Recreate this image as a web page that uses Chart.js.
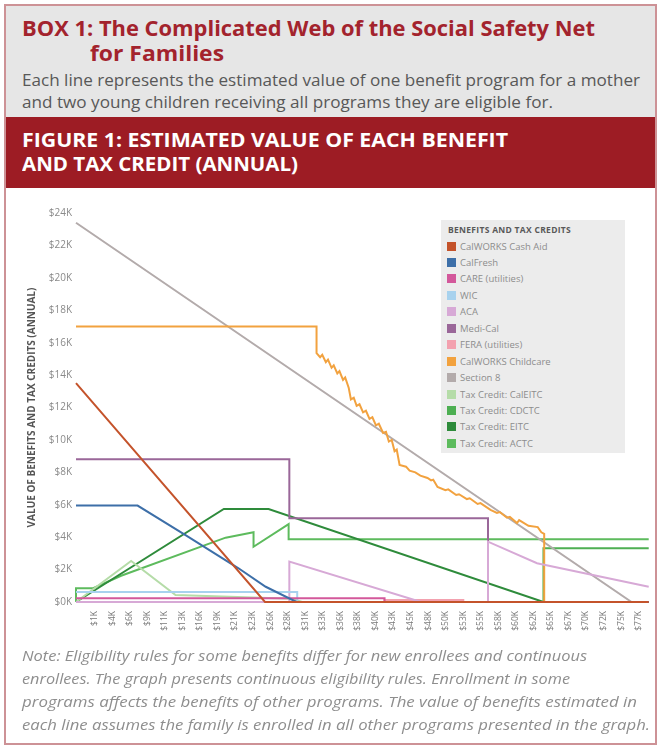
<!DOCTYPE html>
<html>
<head>
<meta charset="utf-8">
<script src="https://cdn.jsdelivr.net/npm/chart.js@4.4.0/dist/chart.umd.min.js"></script>
<style>
  body { margin: 0; background: #fff; font-family: "Open Sans", sans-serif; }
  .abs { position: absolute; }
  #frame { left: 4px; top: 4px; width: 653px; height: 741px; border: 2px solid #cd9296; box-sizing: border-box; }
  #head { left: 6px; top: 6px; width: 649px; height: 111px; background: #e6e6e6; }
  #banner { left: 6px; top: 117px; width: 649px; height: 71px; background: #9d1c24; }
  .line { position: absolute; white-space: nowrap; transform-origin: 0 50%; display: inline-block; }
  .title { font-weight: 700; font-size: 21px; color: #a3232d; line-height: 24px; }
  .sub { font-size: 17px; color: #585858; line-height: 22px; }
  .fig { font-weight: 700; font-size: 20px; color: #fff; line-height: 24px; }
  .note { font-style: italic; font-size: 15px; color: #8e8e8e; line-height: 23px; }
  #wrap { left: 0; top: 190px; width: 658px; height: 455px; }
  #legend { left: 441px; top: 220px; width: 184px; height: 233px; background: #ececec; font-family: "Open Sans", sans-serif; }
  #legend .lt { position: absolute; left: 7px; top: 4px; font-size: 8.5px; font-weight: 700; color: #595959; line-height: 12px; letter-spacing: 0.3px; }
  #legend .it { position: absolute; left: 6px; font-size: 9.5px; color: #8c8c8c; line-height: 16px; white-space: nowrap; }
  #legend .sw { display: inline-block; width: 9px; height: 9px; margin-right: 4px; vertical-align: -1px; }
</style>
</head>
<body>
<div id="frame" class="abs"></div>
<div id="head" class="abs"></div>
<div id="banner" class="abs"></div>

<span class="line title" style="left:22px; top:16px" data-w="573">BOX 1: The Complicated Web of the Social Safety Net</span>
<span class="line title" style="left:90px; top:41px" data-w="134">for Families</span>
<span class="line sub" style="left:22px; top:69px" data-w="618">Each line represents the estimated value of one benefit program for a mother</span>
<span class="line sub" style="left:22px; top:91px" data-w="531">and two young children receiving all programs they are eligible for.</span>
<span class="line fig" style="left:22px; top:128px" data-w="486">FIGURE 1: ESTIMATED VALUE OF EACH BENEFIT</span>
<span class="line fig" style="left:22px; top:152px" data-w="276">AND TAX CREDIT (ANNUAL)</span>

<div id="wrap" class="abs"><canvas id="chart" width="658" height="455"></canvas></div>
<div id="legend" class="abs"></div>

<span class="line note" style="left:22px; top:644px" data-w="565">Note: Eligibility rules for some benefits differ for new enrollees and continuous</span>
<span class="line note" style="left:22px; top:667px" data-w="548">enrollees. The graph presents continuous eligibility rules. Enrollment in some</span>
<span class="line note" style="left:22px; top:690px" data-w="615">programs affects the benefits of other programs. The value of benefits estimated in</span>
<span class="line note" style="left:22px; top:713px" data-w="628">each line assumes the family is enrolled in all other programs presented in the graph.</span>

<script>
// x = annual income ($K), y = annual value ($K)
const xTickLabels = ["$1K", "$4K", "$6K", "$9K", "$11K", "$13K", "$16K", "$19K", "$21K", "$23K", "$26K",
    "$28K", "$31K", "$33K", "$36K", "$38K", "$40K", "$43K", "$45K", "$48K", "$50K", "$53K", "$55K",
    "$58K", "$60K", "$62K", "$65K", "$67K", "$70K", "$72K", "$75K", "$77K"];

const seriesNames = ["CalWORKS Cash Aid", "CalFresh", "CARE (utilities)", "WIC", "ACA", "Medi-Cal",
    "FERA (utilities)", "CalWORKS Childcare", "Section 8", "Tax Credit: CalEITC", "Tax Credit: CDCTC",
    "Tax Credit: EITC", "Tax Credit: ACTC"];

const cashAid = [[-1.6, 13.5], [24.8, 0], [78.4, 0]];
const calFresh = [[-1.6, 5.95], [7.0, 5.95], [13.7, 4.13], [21.1, 2.08], [24.9, 0.94], [29.2, 0], [78.4, 0]];
const care = [[-1.6, 0.23], [41.5, 0.23], [41.5, 0], [78.4, 0]];
const wic = [[-1.6, 0.62], [29.3, 0.62], [29.3, 0], [78.4, 0]];
const aca = [[-1.6, 0], [28.2, 0], [28.2, 2.49], [46.6, 0], [55.95, 0], [55.95, 3.72], [62.8, 2.39], [78.4, 0.94]];
const mediCal = [[-1.6, 8.8], [28.2, 8.8], [28.2, 5.16], [55.95, 5.16], [55.95, 0], [78.4, 0]];
const fera = [[-1.6, 0], [41.5, 0], [41.5, 0.12], [52.5, 0.12], [52.5, 0], [78.4, 0]];
const childcare = [[-1.6, 17.0], [32.0, 17.0], [32.0, 15.35], [32.5, 15.1], [32.8, 15.25], [33.3, 14.8],
    [33.6, 14.95], [34.1, 14.45], [34.4, 14.6], [34.9, 14.1], [35.2, 14.25], [35.7, 13.7], [36.0, 13.85],
    [36.5, 13.2], [36.8, 12.5], [37.2, 12.6], [37.6, 12.1], [38.0, 12.2], [38.5, 11.7], [38.9, 11.8],
    [39.4, 11.3], [39.8, 11.4], [40.3, 10.9], [40.7, 11.0], [41.3, 10.43], [41.7, 10.5], [42.1, 9.9],
    [42.5, 10.0], [42.9, 9.3], [43.2, 9.4], [43.6, 8.45], [44.5, 8.35], [45.0, 8.1], [45.8, 8.0],
    [46.5, 7.8], [47.5, 7.65], [48.0, 7.5], [48.3, 7.55], [48.9, 7.1], [50.0, 6.9], [50.4, 6.95],
    [51.5, 6.6], [51.9, 6.65], [53.0, 6.35], [53.4, 6.4], [54.5, 6.05], [54.9, 6.1], [56.3, 5.68],
    [57.2, 5.5], [57.6, 5.55], [58.6, 5.2], [59.0, 5.25], [60.0, 4.87], [60.3, 5.05], [61.6, 4.7],
    [62.9, 4.62], [63.4, 4.3], [63.8, 4.2], [63.8, 0], [78.4, 0]];
const section8 = [[-1.6, 23.4], [76.0, 0], [78.4, 0]];
const calEitc = [[-1.6, 0], [6.1, 2.53], [12.3, 0.43], [28.5, 0.2], [30.0, 0], [78.4, 0]];
const cdctc = [[-1.6, 0], [63.7, 0], [63.7, 3.31], [78.4, 3.31]];
const eitc = [[-1.6, 0], [19.05, 5.74], [25.3, 5.74], [63.7, 0], [78.4, 0]];
const actc = [[-1.6, 0], [-1.6, 0.85], [0.8, 0.85], [4.7, 1.62], [19.3, 3.97], [23.2, 4.3], [23.2, 3.41],
    [28.1, 4.81], [28.1, 3.87], [78.4, 3.87]];

const seriesData = [cashAid, calFresh, care, wic, aca, mediCal, fera, childcare, section8, calEitc, cdctc, eitc, actc];
const seriesColors = ["#c4532b", "#3d6fa8", "#d3589b", "#a8d2ee", "#d7a9d6", "#9a6799", "#f3a1af",
    "#f2a23f", "#b3abab", "#b5dca8", "#4daf52", "#2e8b3b", "#5dbb5d"];

const X_MIN = -1.6, X_MAX = 78.4;
// labels sit evenly spaced between first and last label value
const xTickPos = xTickLabels.map((t, i) => 1 + i * (77 - 1) / (xTickLabels.length - 1));

// squeeze/stretch the header and note lines to the reference widths
document.querySelectorAll("[data-w]").forEach(function (el) {
    let w = el.getBoundingClientRect().width;
    el.style.transform = "scaleX(" + (parseFloat(el.dataset.w) / w) + ")";
});

const chart = new Chart(document.getElementById("chart"), {
    type: "line",
    data: {
        datasets: seriesData.map((d, i) => ({
            label: seriesNames[i],
            data: d.map(p => ({ x: p[0], y: p[1] })),
            borderColor: seriesColors[i],
            backgroundColor: seriesColors[i],
            borderWidth: 2,
            pointRadius: 0,
            tension: 0,
            clip: false
        }))
    },
    options: {
        responsive: false,
        animation: false,
        layout: { padding: { top: 23, right: 6, left: 0, bottom: 0 } },
        plugins: { legend: { display: false }, tooltip: { enabled: false } },
        scales: {
            x: {
                type: "linear",
                min: X_MIN,
                max: X_MAX,
                grid: { display: false, drawTicks: false },
                border: { display: false },
                afterBuildTicks: s => { s.ticks = xTickPos.map(v => ({ value: v })); },
                afterFit: s => { s.height = 43; },
                ticks: {
                    autoSkip: false, maxRotation: 90, minRotation: 90, padding: 9,
                    color: "#7a7a7a", font: { size: 8.5, family: "Open Sans" },
                    callback: (v, i) => xTickLabels[i]
                }
            },
            y: {
                min: 0,
                max: 24,
                grid: { display: false, drawTicks: false },
                border: { display: false },
                afterFit: s => { s.width = 76; },
                ticks: {
                    stepSize: 2, padding: 4, color: "#8a8a8a",
                    font: { size: 10, family: "Open Sans" },
                    callback: v => "$" + v + "K"
                },
                title: {
                    display: true,
                    text: "VALUE OF BENEFITS AND TAX CREDITS (ANNUAL)",
                    color: "#555",
                    font: { size: 10, weight: "bold", family: "Open Sans" },
                    padding: { top: 26, bottom: 0 }
                }
            }
        }
    }
});

// legend box drawn in html over the plot
let legend = document.getElementById("legend");
let html = '<div class="lt">BENEFITS AND TAX CREDITS</div>';
chart.data.datasets.forEach(function (ds, i) {
    html += '<div class="it" style="top:' + (18.5 + i * 16.45) + 'px"><span class="sw" style="background:' +
        ds.borderColor + '"></span>' + ds.label + '</div>';
});
legend.innerHTML = html;
</script>
</body>
</html>
